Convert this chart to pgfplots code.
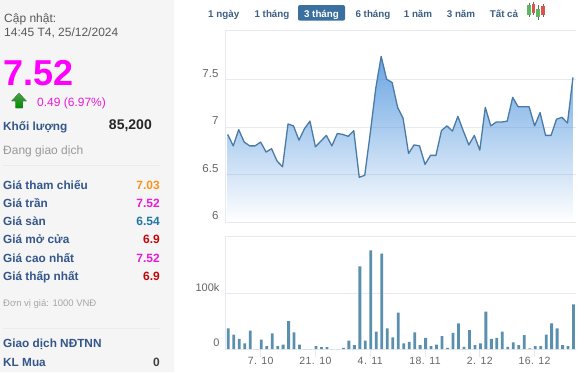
\documentclass[border=0pt]{standalone}
\usepackage{fontspec}
\setmainfont{Liberation Sans}
\newfontfamily\tickfont[LetterSpace=4]{Liberation Sans}
\usepackage{pgfplots}
\pgfplotsset{compat=1.18}
\definecolor{panel}{HTML}{F5F5F5}
\definecolor{gridc}{HTML}{E6EAF0}
\definecolor{gridt}{HTML}{5A7CA0}
\definecolor{linec}{HTML}{4A7BA6}
\definecolor{barc}{HTML}{5A90AE}
\definecolor{topfill}{HTML}{6AA5E3}
\definecolor{lab}{HTML}{34568B}
\definecolor{btn}{HTML}{3A6F9F}
\definecolor{navt}{HTML}{3F5F85}
\definecolor{tickc}{HTML}{666666}
\definecolor{mag}{HTML}{E81CD8}
\definecolor{bigmag}{HTML}{FF00FF}
\definecolor{redv}{HTML}{C00A0A}
\definecolor{orv}{HTML}{F7941D}
\definecolor{tealv}{HTML}{1F77A8}
\definecolor{cg}{HTML}{5CB85C}
\definecolor{cr}{HTML}{D9534F}
\pgfdeclareverticalshading{pricefade}{100bp}{color(0bp)=(white); color(25bp)=(white); color(75bp)=(topfill); color(100bp)=(topfill)}
\newcommand{\fs}[1]{\fontsize{#1}{#1}\selectfont}
% \T{x}{baseline y}{anchor}{colour}{size}{text}
\newcommand{\T}[6]{\node[anchor=#3,inner sep=0pt,text=#4] at (#1,-#2) {\fs{#5}#6};}
\begin{document}
\begin{tikzpicture}[x=1pt,y=1pt]
\useasboundingbox (0,0) rectangle (588,-372);
\fill[white] (0,0) rectangle (588,-372);
\fill[panel] (0,0) rectangle (174,-372);
% left panel
\T{4}{22.5}{base west}{black!65}{12}{Cập nhật:}
\T{4}{36}{base west}{black!65}{12}{14:45 T4, 25/12/2024}
\T{3}{85}{base west}{bigmag}{36}{\textbf{7.52}}
\fill[top color=green!45!black!70,bottom color=green!55!black,draw=none]
  (19,-93) -- (26.5,-101) -- (22.5,-101) -- (22.5,-108) -- (15.5,-108) -- (15.5,-101) -- (11.5,-101) -- cycle;
\T{37}{106}{base west}{mag}{12}{0.49 (6.97\%)}
\T{3}{130.5}{base west}{lab}{11.8}{\textbf{Khối lượng}}
\T{152}{129}{base east}{black!85}{14}{\textbf{85,200}}
\T{3}{154.5}{base west}{black!40}{12}{Đang giao dịch}
\draw[black!8] (3,-165) -- (160,-165);
\T{3}{189}{base west}{lab}{11.8}{\textbf{Giá tham chiếu}}
\T{160}{189}{base east}{orv}{12}{\textbf{7.03}}
\T{3}{207}{base west}{lab}{11.8}{\textbf{Giá trần}}
\T{160}{207}{base east}{mag}{12}{\textbf{7.52}}
\T{3}{225}{base west}{lab}{11.8}{\textbf{Giá sàn}}
\T{160}{225}{base east}{tealv}{12}{\textbf{6.54}}
\T{3}{243.5}{base west}{lab}{11.8}{\textbf{Giá mở cửa}}
\T{160}{243.5}{base east}{redv}{12}{\textbf{6.9}}
\T{3}{262}{base west}{lab}{11.8}{\textbf{Giá cao nhất}}
\T{160}{262}{base east}{mag}{12}{\textbf{7.52}}
\T{3}{280}{base west}{lab}{11.8}{\textbf{Giá thấp nhất}}
\T{160}{280}{base east}{redv}{12}{\textbf{6.9}}
\T{3}{306}{base west}{black!35}{9.5}{Đơn vị giá: 1000 VNĐ}
\draw[black!8] (3,-328) -- (160,-328);
\T{3}{347.5}{base west}{lab}{11.8}{\textbf{Giao dịch NĐTNN}}
\T{3}{366}{base west}{lab}{11.8}{\textbf{KL Mua}}
\T{160}{366}{base east}{black!75}{12}{\textbf{0}}
% range buttons
\fill[btn,rounded corners=2pt] (298,-5) rectangle (345,-20.7);
\T{223.7}{17}{base}{navt}{9.8}{\textbf{1 ngày}}
\T{272}{17}{base}{navt}{9.8}{\textbf{1 tháng}}
\T{321.5}{17}{base}{white}{9.8}{\textbf{3 tháng}}
\T{373}{17}{base}{navt}{9.8}{\textbf{6 tháng}}
\T{418}{17}{base}{navt}{9.8}{\textbf{1 năm}}
\T{461}{17}{base}{navt}{9.8}{\textbf{3 năm}}
\T{504}{17}{base}{navt}{9.8}{\textbf{Tất cả}}
% candlestick icon
\draw[black!60] (528.7,-2.5)--(528.7,-16.5) (533.5,-1.5)--(533.5,-15) (538,-5)--(538,-19.5) (543,-4)--(543,-17);
\fill[cg] (527,-4.5) rectangle (530.5,-14.5);
\fill[cr] (531.7,-3.5) rectangle (535.3,-12.5);
\fill[cg] (536.3,-8.5) rectangle (539.8,-17);
\fill[cr] (541.2,-6) rectangle (544.8,-15);
% price chart
\begin{axis}[
  at={(225pt,-222pt)},anchor=south west,scale only axis,
  width=350.7pt,height=191.3pt,
  xmin=-0.5,xmax=63.5,ymin=6,ymax=8.01,
  axis line style={draw=none},clip=false,
  xtick=\empty,ytick={6,6.5,7,7.5},
  yticklabels={6,6.5,7,7.5},
  ytick style={draw=none},
  yticklabel style={text=tickc,font=\fs{11.5},yshift=6pt,xshift=-3pt},
  /pgf/number format/assume math mode=true]
\addplot[draw=none,shade,shading=pricefade] table {
x y
0 6.92
1 6.80
2 6.97
3 6.84
4 6.80
5 6.80
6 6.84
7 6.735
8 6.77
9 6.64
10 6.58
11 7.03
12 7.01
13 6.86
14 6.98
15 7.06
16 6.79
17 6.85
18 6.91
19 6.80
20 6.93
21 6.92
22 6.90
23 6.96
24 6.47
25 6.49
26 6.93
27 7.40
28 7.74
29 7.50
30 7.465
31 7.205
32 7.09
33 6.72
34 6.81
35 6.80
36 6.605
37 6.70
38 6.70
39 6.96
40 7.01
41 6.955
42 7.11
43 6.955
44 6.81
45 6.91
46 6.755
47 7.205
48 7.01
49 7.05
50 7.05
51 7.06
52 7.31
53 7.21
54 7.21
55 7.21
56 7.01
57 7.15
58 6.91
59 6.91
60 7.08
61 7.10
62 7.04
63 7.52
} \closedcycle;
\draw[gridt,opacity=0.15] (axis cs:-0.5,6.5)--(axis cs:63.5,6.5) (axis cs:-0.5,7)--(axis cs:63.5,7) (axis cs:-0.5,7.5)--(axis cs:63.5,7.5);
\draw[gridc,line width=0.8pt] (rel axis cs:0,0)--(rel axis cs:0,1) (rel axis cs:0,1)--(rel axis cs:1,1) (rel axis cs:0,0)--(rel axis cs:1,0);
\addplot[linec,line width=1.3pt,mark=none,line join=round] table {
x y
0 6.92
1 6.80
2 6.97
3 6.84
4 6.80
5 6.80
6 6.84
7 6.735
8 6.77
9 6.64
10 6.58
11 7.03
12 7.01
13 6.86
14 6.98
15 7.06
16 6.79
17 6.85
18 6.91
19 6.80
20 6.93
21 6.92
22 6.90
23 6.96
24 6.47
25 6.49
26 6.93
27 7.40
28 7.74
29 7.50
30 7.465
31 7.205
32 7.09
33 6.72
34 6.81
35 6.80
36 6.605
37 6.70
38 6.70
39 6.96
40 7.01
41 6.955
42 7.11
43 6.955
44 6.81
45 6.91
46 6.755
47 7.205
48 7.01
49 7.05
50 7.05
51 7.06
52 7.31
53 7.21
54 7.21
55 7.21
56 7.01
57 7.15
58 6.91
59 6.91
60 7.08
61 7.10
62 7.04
63 7.52
};
\end{axis}
% volume chart
\begin{axis}[
  at={(225pt,-349pt)},anchor=south west,scale only axis,
  width=350.7pt,height=112.7pt,
  xmin=-0.5,xmax=63.5,ymin=0,ymax=202000,
  axis line style={draw=none},clip=false,
  scaled y ticks=false,
  xtick pos=bottom,
  xtick={6,16,26,36,46,56},
  xticklabels={7. 10,21. 10,4. 11,18. 11,2. 12,16. 12},
  ytick={0,100000},yticklabels={0,100k},
  ytick style={draw=none},
  xtick style={draw=gridc,line width=0.8pt},
  tick align=outside,major tick length=8pt,
  ymajorgrids,grid style={gridc},
  xticklabel style={text=tickc,font=\tickfont\fs{10.5},yshift=3pt},
  yticklabel style={text=tickc,font=\fs{11},yshift=6pt,xshift=6pt}]
\draw[gridc,line width=0.8pt] (rel axis cs:0,0)--(rel axis cs:0,1) (rel axis cs:0,1)--(rel axis cs:1,1) (rel axis cs:0,0)--(rel axis cs:1,0);
\addplot[ybar,bar width=2.8pt,bar shift=0.6pt,fill=barc,draw=none] table {
x y
0 37000
1 26000
2 18000
3 10000
4 33000
5 0
6 17000
7 5000
8 28000
9 5000
10 8000
11 50000
12 30000
13 8000
14 0
15 0
16 5000
17 3500
18 3500
19 0
20 0
21 2000
22 15000
23 7000
24 148000
25 15000
26 177000
27 31000
28 171000
29 37000
30 21000
31 65000
32 10000
33 13000
34 30000
35 7000
36 20000
37 5000
38 8000
39 23000
40 2000
41 29000
42 46000
43 4000
44 34000
45 7000
46 10000
47 67000
48 18000
49 20000
50 31000
51 4000
52 12000
53 7000
54 25000
55 1000
56 5000
57 5000
58 26000
59 46000
60 37000
61 7000
62 5000
63 80000
};
\end{axis}
\end{tikzpicture}
\end{document}
